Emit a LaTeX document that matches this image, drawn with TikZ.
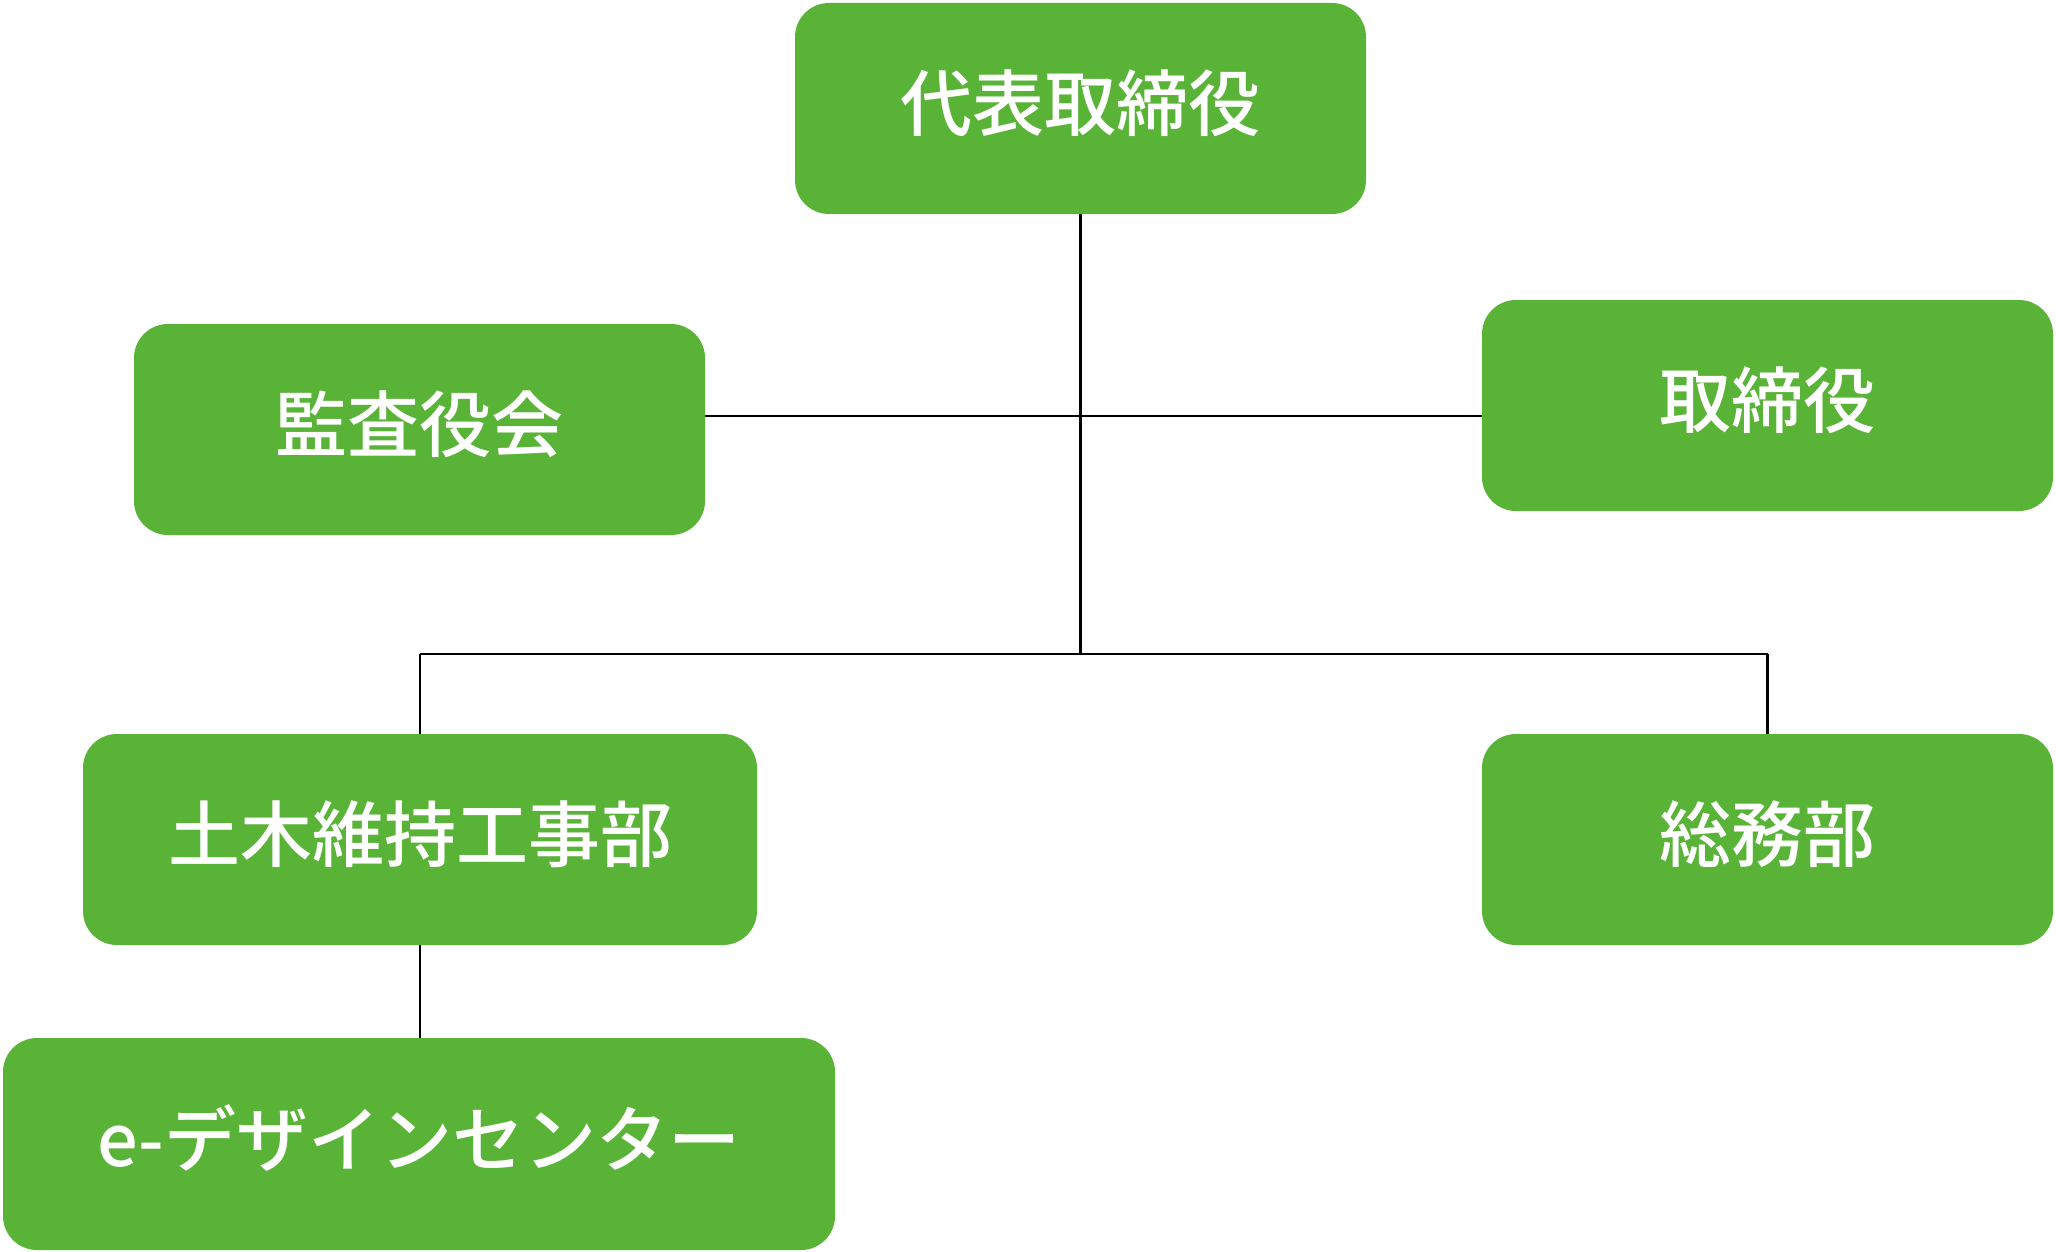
\documentclass[tikz,border=0pt]{standalone}
\usepackage{fontspec}
\newfontfamily\jp{Noto Sans CJK JP Medium}
\definecolor{boxgreen}{RGB}{89,179,55}
\tikzset{
  orgbox/.style={fill=boxgreen, draw=none, rounded corners=34pt, inner sep=0pt,
    text=white, font=\jp\fontsize{72pt}{80pt}\selectfont,
    text height=60pt, text depth=16pt, anchor=center},
  conn/.style={draw=black, line width=2.8pt}
}
\begin{document}
\begin{tikzpicture}[x=1pt,y=1pt]
\useasboundingbox (0,0) rectangle (2056,-1252);
\node[orgbox, minimum width=571pt, minimum height=211pt] (ceo) at (1080.5,-108.5) {代表取締役};
\node[orgbox, minimum width=571pt, minimum height=211pt] (kansa) at (419.5,-429.5) {監査役会};
\node[orgbox, minimum width=571pt, minimum height=211pt] (tori) at (1767.5,-405.5) {取締役};
\node[orgbox, minimum width=674pt, minimum height=211pt] (doboku) at (420,-839.5) {土木維持工事部};
\node[orgbox, minimum width=571pt, minimum height=211pt] (soumu) at (1767.5,-839.5) {総務部};
\node[orgbox, minimum width=832pt, minimum height=212pt] (edes) at (419,-1144) {e-デザインセンター};
\coordinate (mid) at (1080,-416);
\coordinate (br) at (1080,-654);
\draw[conn] (kansa.east |- mid) -- (tori.west |- mid);
\draw[conn] (ceo.south) -- (ceo.south |- br);
\draw[conn] (doboku.north |- br) -- (soumu.north |- br);
\draw[conn] (doboku.north |- br) -- (doboku.north);
\draw[conn] (soumu.north |- br) -- (soumu.north);
\draw[conn] (doboku.south) -- (doboku.south |- edes.north);
\end{tikzpicture}
\end{document}
